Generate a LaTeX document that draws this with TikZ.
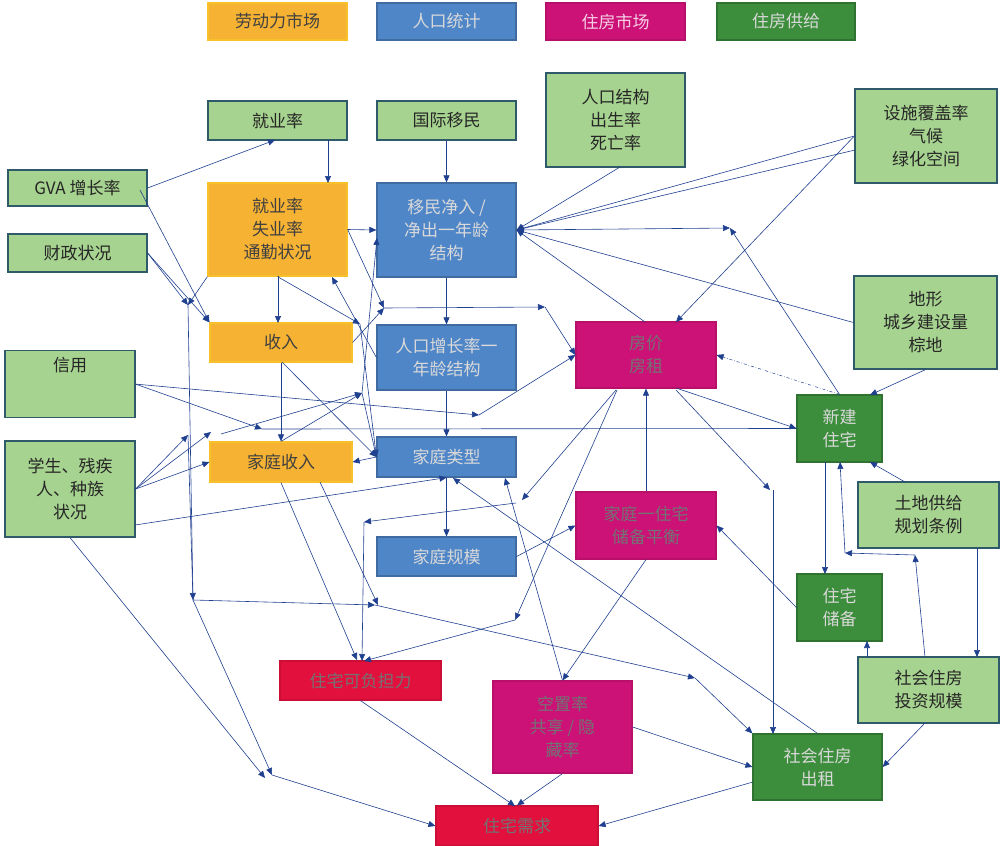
\documentclass[tikz,border=0pt]{standalone}
\usepackage{fontspec}
\setmainfont{Liberation Serif}
\newfontfamily\cjk{Noto Sans CJK SC}
\usetikzlibrary{arrows.meta}
\definecolor{lgf}{HTML}{A6D38F}
\definecolor{lgd}{HTML}{2E5A6A}
\definecolor{orf}{HTML}{F6B233}
\definecolor{bluf}{HTML}{4F86C8}
\definecolor{magf}{HTML}{CC1177}
\definecolor{redf}{HTML}{E2103C}
\definecolor{dgf}{HTML}{3C8E3C}
\definecolor{ln}{HTML}{1F3F8F}
\tikzset{
 bx/.style={draw, line width=1.2pt, inner sep=0pt, align=center, font=\cjk\fontsize{17}{23}\selectfont},
 lg/.style={bx, fill=lgf, draw=lgd, text=black!85},
 orb/.style={bx, fill=orf, draw=orf!80!yellow, text=black!75},
 blb/.style={bx, fill=bluf, draw=bluf!80!black, text=white!85!black},
 mgb/.style={bx, fill=magf, draw=magf!90!black, text=black!55},
 rdb/.style={bx, fill=redf, draw=redf!90!black, text=black!55},
 dgb/.style={bx, fill=dgf, draw=dgf!80!black, text=white!85!black},
 ar/.style={draw=ln, line width=0.6pt, -{Triangle[length=7pt,width=6pt]}},
 ln/.style={draw=ln, line width=0.6pt},
 dar/.style={draw=ln, line width=0.6pt, {Triangle[length=7pt,width=6pt]}-{Triangle[length=7pt,width=6pt]}},
}
\newcommand{\bxat}[7]{\node[#1, minimum width={#5-#3}, minimum height={#6-#4}] (#2) at ({(#3+#5)/2},{(#4+#6)/2}) {#7};}
\begin{document}
\begin{tikzpicture}[x=1pt,y=-1pt]
\useasboundingbox (0,0) rectangle (1002,846);
% legend
\bxat{orb}{L1}{208}{3}{347}{40}{劳动力市场}
\bxat{blb}{L2}{377}{3}{516}{40}{人口统计}
\bxat{mgb}{L3}{546}{3}{685}{40}{\color{white!80!magf}住房市场}
\bxat{dgb}{L4}{717}{3}{855}{40}{住房供给}
% nodes
\bxat{lg}{jy}{208}{101}{347}{140}{就业率}
\bxat{lg}{gj}{377}{101}{516}{140}{国际移民}
\bxat{lg}{rk}{546}{73}{685}{167}{人口结构\\出生率\\死亡率}
\bxat{lg}{ss}{855}{89}{997}{183}{设施覆盖率\\气候\\绿化空间}
\bxat{lg}{gva}{8}{170}{147}{206}{GVA 增长率}
\bxat{lg}{cz}{8}{234}{147}{272}{财政状况}
\bxat{orb}{jys}{208}{183}{347}{276}{就业率\\失业率\\通勤状况}
\bxat{blb}{ym}{377}{183}{516}{277}{移民净入 /\\净出一年龄\\结构}
\bxat{orb}{sr}{210}{323}{352}{362}{收入}
\bxat{blb}{zz}{377}{325}{516}{390}{人口增长率一\\年龄结构}
\bxat{mgb}{fj}{576}{322}{716}{388}{房价\\房租}
\bxat{lg}{dx}{854}{276}{997}{369}{地形\\城乡建设量\\棕地}
\node[lg, minimum width=130, minimum height=67, anchor=north, text height=14pt, text depth=40pt] (xy) at (70,350) {信用};
\bxat{dgb}{xj}{797}{395}{882}{462}{新建\\住宅}
\bxat{lg}{xs}{5}{441}{135}{537}{学生、残疾\\人、种族\\状况}
\bxat{orb}{jsr}{210}{442}{352}{482}{家庭收入}
\bxat{blb}{lx}{377}{437}{516}{477}{家庭类型}
\bxat{mgb}{ph}{576}{492}{716}{559}{家庭一住宅\\储备平衡}
\bxat{lg}{td}{858}{482}{999}{548}{土地供给\\规划条例}
\bxat{blb}{gm}{377}{537}{516}{576}{家庭规模}
\bxat{dgb}{cb}{797}{574}{882}{641}{住宅\\储备}
\bxat{rdb}{fd}{280}{661}{441}{700}{住宅可负担力}
\bxat{lg}{tz}{858}{657}{999}{723}{社会住房\\投资规模}
\bxat{mgb}{kz}{493}{681}{632}{773}{空置率\\共享 / 隐\\藏率}
\bxat{dgb}{cz2}{753}{734}{882}{800}{社会住房\\出租}
\bxat{rdb}{xq}{436}{806}{598}{846}{住宅需求}
% waypoints
\coordinate (v1) at (188,305);
\coordinate (v2) at (188,435);
\coordinate (v3) at (193,600);
\coordinate (h1) at (375,605);
\coordinate (h2) at (695,678);
\coordinate (w1) at (265,778);
\coordinate (w2) at (272,775);
\coordinate (a1) at (384,308);
\coordinate (a2) at (545,307);
\coordinate (b1) at (360,324);
\coordinate (c1) at (362,393);
\coordinate (c2) at (211,432);
\coordinate (c3) at (221,434);
\coordinate (d1) at (262,429);
\coordinate (d2) at (479,415);
\coordinate (e1) at (522,500);
\coordinate (e2) at (364,522);
\coordinate (f1) at (515,620);
\coordinate (g1) at (770,490);
\coordinate (k1) at (730,228);
\coordinate (s1) at (915,555);
\coordinate (s2) at (845,553);
% connectors
\path[ar] (gva.east) -- (275,140);
\path[ar] (328,140) -- (328,183);
\path[ar] (gj) -- (ym);
\path[ar] (140,190) -- (sr.north west);
\path[ar] (cz.east) -- (v1);
\path[ar] (cz.east) -- (sr.north west);
\path[ar] (jys.south west) -- (v1);
\path[ln] (v1) -- (v3);
\path[ar] (xs.east) -- (v2);
\path[ar] (v2) -- (v3);
\path[ar] (v3) -- (h1);
\path[ar] (h1) -- (h2);
\path[ar] (h2) -- (cz2.north west);
\path[ar] (v3) -- (w2);
\path[ar] (xs.south) -- (w1);
\path[ar] (w2) -- (xq.west);
\path[ar] (278,276) -- (278,323);
\path[ar] (jys.east) -- (ym.west);
\path[ar] (jys.south) -- (b1);
\path[ar] (b1) -- (lx.west);
\path[ar] (zz.west) -- (332,277);
\path[ar] (jys.east) -- (a1);
\path[ar] (a1) -- (a2);
\path[ar] (a2) -- (fj.west);
\path[ar] (sr.east) -- (a1);
\path[ar] (lx.west) -- (c1) -- (377,238);
\path[ar] (xy.east) -- (d1);
\path[ln] (d1) -- (xj.west);
\path[ar] (xy.east) -- (d2);
\path[ar] (d2) -- (fj.west);
\path[ar] (sr.south) -- (jsr.north);
\path[ar] (282,362) -- (lx.west);
\path[ar] (jsr.north) -- (c1);
\path[ar] (xs.east) -- (c2);
\path[ar] (c3) -- (c1);
\path[ar] (xs.east) -- (jsr.west);
\path[ar] (135,525) -- (lx.south);
\path[ar] (lx.west) -- (jsr.east);
\path[ar] (ym) -- (zz);
\path[ar] (zz) -- (lx);
\path[ar] (lx) -- (gm);
\path[ar] (jsr.south) -- (357,660);
\path[ar] (320,482) -- (378,605);
\path[ar] (616,390) -- (e1);
\path[ar] (516,503) -- (e2);
\path[ar] (e2) -- (362,661);
\path[ar] (617,390) -- (f1);
\path[ar] (f1) -- (364,661);
\path[ar] (gm.east) -- (ph.west);
\path[ar] (ph.north) -- (fj.south);
\path[ar] (ph.south) -- (kz.north);
\path[ar] (676,388) -- (xj.west);
\path[ar] (676,390) -- (g1);
\path[ar] (773,490) -- (773,734);
\path[draw=ln, line width=0.5pt, dash dot, -{Triangle[length=7pt,width=6pt]}] (xj.north) -- (fj.east);
\path[ar] (xj.north) -- (k1);
\path[dar] (ym.east) -- (k1);
\path[ar] (dx.west) -- (ym.east);
\path[ar] (ss.west) -- (ym.east);
\path[ar] (855,150) -- (ym.east);
\path[ar] (620,167) -- (ym.east);
\path[ar] (ss.west) -- (676,322);
\path[ar] (645,322) -- (ym.east);
\path[ar] (dx.south) -- (870,395);
\path[ar] (825,462) -- (825,574);
\path[ar] (905,482) -- (870,462);
\path[ar] (977,548) -- (977,657);
\path[ar] (925,657) -- (s1);
\path[ar] (s1) -- (s2);
\path[ar] (s2) -- (840,462);
\path[ar] (867,657) -- (867,641);
\path[ar] (925,723) -- (cz2.east);
\path[ar] (cb.west) -- (ph.east);
\path[ar] (cz2.north) -- (453,478);
\path[ar] (kz.north) -- (505,478);
\path[ar] (kz.east) -- (cz2.west);
\path[ar] (kz.south) -- (xq.north);
\path[ar] (fd.south) -- (515,806);
\path[ar] (753,782) -- (xq.east);
\end{tikzpicture}
\end{document}
